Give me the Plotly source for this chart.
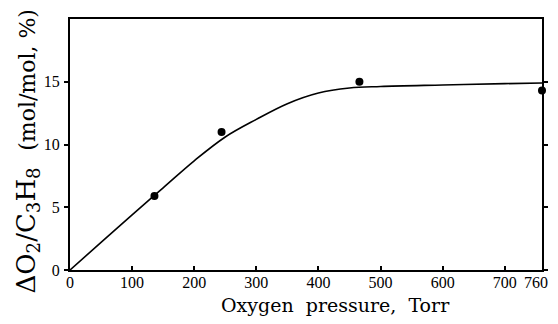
import plotly.graph_objects as go

# Measured data points (Oxygen pressure in Torr, ΔO2/C3H8 in mol/mol %)
pressure_pts = [136, 244, 466, 760]
ratio_pts = [5.9, 11.0, 15.0, 14.3]

# Fitted curve drawn in the original figure
curve_x = [0, 50, 100, 150, 200, 250, 300, 350, 400, 450, 500, 600, 700, 760]
curve_y = [0, 2.2, 4.4, 6.55, 8.7, 10.6, 12.0, 13.25, 14.1, 14.5, 14.62, 14.74, 14.85, 14.9]

x_tickvals = [0, 100, 200, 300, 400, 500, 600, 700, 760]
x_ticktext = ["0", "100", "200", "300", "400", "500", "600", "700", "760"]
y_tickvals = [0, 5, 10, 15]
y_ticktext = ["0", "5", "10", "15"]

SERIF = "Liberation Serif"
TITLE_SERIF = "DejaVu Serif"

fig = go.Figure()
fig.add_trace(go.Scatter(
    x=curve_x, y=curve_y, mode="lines",
    line=dict(color="black", width=1.6, shape="spline", smoothing=1.0),
    hoverinfo="skip", showlegend=False,
))
fig.add_trace(go.Scatter(
    x=pressure_pts, y=ratio_pts, mode="markers",
    marker=dict(color="black", size=8),
    cliponaxis=False, showlegend=False,
))

# last tick label is drawn as a right-anchored annotation so it stays inside the page
axis_ticktext = x_ticktext[:-1] + [""]

fig.update_layout(
    width=542, height=308,
    margin=dict(l=62, r=8, t=11, b=46),
    paper_bgcolor="white", plot_bgcolor="white",
    font=dict(family=SERIF, color="black", size=16),
    xaxis=dict(
        range=[0, 760], tickmode="array", tickvals=x_tickvals, ticktext=axis_ticktext,
        showgrid=False, zeroline=False, showline=True, linecolor="black", linewidth=2,
        mirror=True, ticks="inside", ticklen=4, tickwidth=1.5, tickcolor="black",
        tickfont=dict(family=SERIF, size=16), ticklabelstandoff=-3, automargin=False,
        tickangle=0,
    ),
    yaxis=dict(
        range=[0, 20], tickmode="array", tickvals=y_tickvals, ticktext=y_ticktext,
        showgrid=False, zeroline=False, showline=True, linecolor="black", linewidth=2,
        mirror="ticks", ticks="outside", ticklen=4, tickwidth=1.5, tickcolor="black",
        tickfont=dict(family=SERIF, size=16), ticklabelstandoff=1, automargin=False,
    ),
    annotations=[
        dict(
            text=x_ticktext[-1], xref="x", yref="paper", x=x_tickvals[-1], y=0,
            xanchor="right", yanchor="middle", xshift=7, yshift=-12, showarrow=False,
            borderpad=0, font=dict(family=SERIF, size=16),
        ),
        dict(
            text="Oxygen\u00a0 pressure,\u00a0 Torr", xref="paper", yref="paper",
            x=0.563, y=0, yshift=-35, xanchor="center", yanchor="middle", showarrow=False,
            font=dict(family=TITLE_SERIF, size=19),
        ),
        dict(
            text="ΔO<sub>2</sub>/C<sub>3</sub>H<sub>8</sub>\u00a0 "
                 "<span style='font-size:22px'>(mol/mol, %)</span>",
            xref="paper", yref="paper", x=0, y=0.5, xshift=-43, yshift=-7,
            xanchor="center", yanchor="middle", textangle=-90, showarrow=False,
            font=dict(family=TITLE_SERIF, size=26),
        ),
    ],
)

fig.write_html("out.html")
